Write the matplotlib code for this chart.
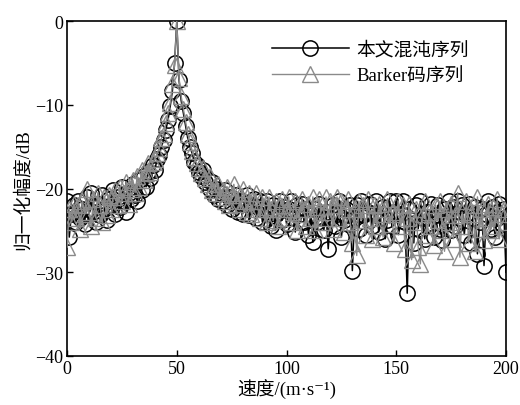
import matplotlib
matplotlib.use("Agg")
import matplotlib.pyplot as plt
import numpy as np

plt.rcParams['font.family'] = ['Liberation Serif', 'Noto Sans CJK SC', 'DejaVu Sans']

velocity = list(range(0, 201))

chaos_db = [
    -21.5, -25.8, -23.0, -22.0, -24.0, -21.5, -23.5, -22.5, -24.2, -21.0,
    -23.0, -20.5, -22.8, -24.0, -21.8, -23.2, -20.8, -22.5, -23.8, -21.2,
    -22.0, -20.2, -23.0, -21.0, -22.2, -19.8, -21.5, -22.8, -20.5, -21.2,
    -19.5, -20.8, -21.5, -19.0, -20.2, -18.5, -19.8, -18.0, -18.8, -17.2,
    -17.8, -16.5, -16.0, -15.0, -14.2, -13.0, -11.8, -10.2, -8.3, -5.0,
    0.0,
    -7.0, -9.5, -11.0, -12.5, -14.0, -15.0, -15.8, -16.8, -17.2, -18.0,
    -18.5, -17.8, -19.2, -19.0, -20.0, -19.2, -20.8, -20.0, -21.2, -20.5,
    -21.5, -20.2, -22.0, -21.0, -22.5, -21.2, -20.8, -22.8, -21.5, -23.0,
    -21.8, -20.8, -23.2, -22.0, -21.2, -23.5, -22.2, -21.5, -24.0, -22.5,
    -21.5, -23.0, -24.5, -22.0, -25.0, -22.8, -21.5, -23.8, -22.2, -24.2,
    -22.5, -21.5, -23.5, -25.2, -22.0, -23.0, -21.8, -24.0, -22.5, -25.5,
    -23.2, -26.4, -22.5, -24.0, -21.8, -23.5, -25.0, -22.8, -27.2, -23.5,
    -22.0, -24.5, -23.0, -21.5, -25.8, -23.8, -22.5, -24.2, -22.0, -29.8,
    -23.5, -22.0, -24.8, -21.5, -23.2, -25.5, -22.8, -21.8, -24.5, -23.0,
    -21.5, -25.2, -23.5, -22.2, -26.0, -23.8, -21.5, -24.5, -22.8, -21.5,
    -25.5, -23.0, -21.5, -24.0, -32.5, -22.5, -23.8, -26.5, -22.0, -24.8,
    -21.5, -23.5, -26.0, -22.8, -24.5, -21.8, -25.8, -23.2, -22.0, -24.8,
    -26.2, -22.5, -23.8, -21.5, -25.0, -22.2, -24.5, -21.5, -23.5, -22.0,
    -25.5, -23.0, -21.8, -26.5, -23.5, -22.2, -27.8, -24.0, -22.5, -29.2,
    -23.0, -21.5, -24.8, -22.2, -25.8, -23.5, -21.8, -24.2, -22.5, -30.0,
]

barker_db = [
    -27.0, -22.5, -24.0, -21.8, -23.5, -22.0, -24.8, -21.5, -23.0, -20.0,
    -22.8, -24.5, -21.2, -23.5, -20.5, -22.0, -24.0, -21.0, -23.2, -20.8,
    -22.5, -21.0, -20.2, -22.0, -19.8, -21.5, -20.5, -19.2, -21.8, -20.0,
    -19.0, -20.5, -18.5, -19.8, -17.8, -19.0, -18.2, -17.0, -18.0, -16.8,
    -16.5, -15.8, -15.2, -14.0, -13.5, -12.2, -11.0, -9.8, -7.5, -5.2,
    0.0,
    -6.8, -9.0, -10.5, -12.0, -13.5, -14.5, -15.5, -16.2, -17.0, -17.5,
    -18.2, -17.5, -18.8, -19.5, -18.5, -20.2, -19.8, -20.5, -19.5, -21.0,
    -20.2, -21.5, -19.8, -22.0, -20.8, -19.5, -21.8, -20.5, -22.5, -20.0,
    -21.5, -22.8, -20.5, -23.0, -21.5, -20.5, -22.5, -23.5, -21.0, -22.2,
    -24.0, -21.0, -22.5, -23.8, -21.5, -24.5, -22.0, -21.2, -23.5, -22.5,
    -21.0, -24.0, -22.8, -21.5, -25.0, -23.0, -21.2, -22.5, -24.5, -21.8,
    -23.5, -21.0, -25.0, -22.2, -21.2, -24.0, -22.8, -21.0, -23.5, -21.5,
    -24.8, -22.0, -21.0, -23.5, -21.5, -25.2, -22.5, -21.2, -24.0, -26.5,
    -22.5, -28.0, -21.5, -23.8, -22.0, -25.5, -21.2, -23.5, -26.0, -22.0,
    -24.5, -21.8, -23.0, -25.8, -22.5, -21.2, -24.2, -22.8, -26.5, -23.0,
    -21.5, -24.5, -22.0, -27.2, -23.5, -21.8, -28.5, -24.0, -22.5, -27.0,
    -29.0, -23.0, -21.5, -25.5, -22.8, -24.5, -26.8, -22.0, -23.8, -21.5,
    -25.0, -27.5, -22.5, -24.0, -21.8, -26.0, -23.2, -20.5, -28.2, -22.8,
    -24.5, -21.5, -26.5, -23.0, -22.0, -27.5, -21.0, -24.8, -22.5, -26.2,
    -23.5, -21.8, -25.0, -22.2, -24.5, -21.2, -26.0, -23.0, -22.5, -24.0,
]

x_ticks = [0, 50, 100, 150, 200]
y_ticks = [-40, -30, -20, -10, 0]
series_labels = ['本文混沌序列', 'Barker码序列']

fig = plt.figure(figsize=(5.2, 4.06), dpi=100)
ax = fig.add_axes([0.129, 0.1207, 0.844, 0.8251])

ax.plot(velocity, chaos_db, color='black', lw=1.1, marker='o', ms=11,
        mfc='none', mec='black', mew=1.1, label=series_labels[0], zorder=2)
ax.plot(velocity, barker_db, color='#8a8a8a', lw=1.0, marker='^', ms=11,
        mfc='none', mec='#8a8a8a', mew=1.0, label=series_labels[1], zorder=3)

ax.set_xlim(0, 200)
ax.set_ylim(-40, 0)
ax.set_xticks(x_ticks)
ax.set_yticks(y_ticks)
ax.set_yticklabels(['\u221240', '\u221230', '\u221220', '\u221210', '0'])
ax.tick_params(direction='in', length=4, width=1, labelsize=13,
               top=False, right=False, pad=3)
for s in ax.spines.values():
    s.set_linewidth(1.2)

ax.set_xlabel('速度/(m·s\u207b\u00b9)', fontsize=13.5, labelpad=1)
ax.set_ylabel('归一化幅度/dB', fontsize=13.5, labelpad=2)

leg = ax.legend(loc='upper left', bbox_to_anchor=(0.467, 0.94), frameon=False,
                fontsize=13.5, handlelength=4.1, handletextpad=0.4,
                labelspacing=0.45, borderaxespad=0, borderpad=0)

fig.savefig('out.png', dpi=100)
